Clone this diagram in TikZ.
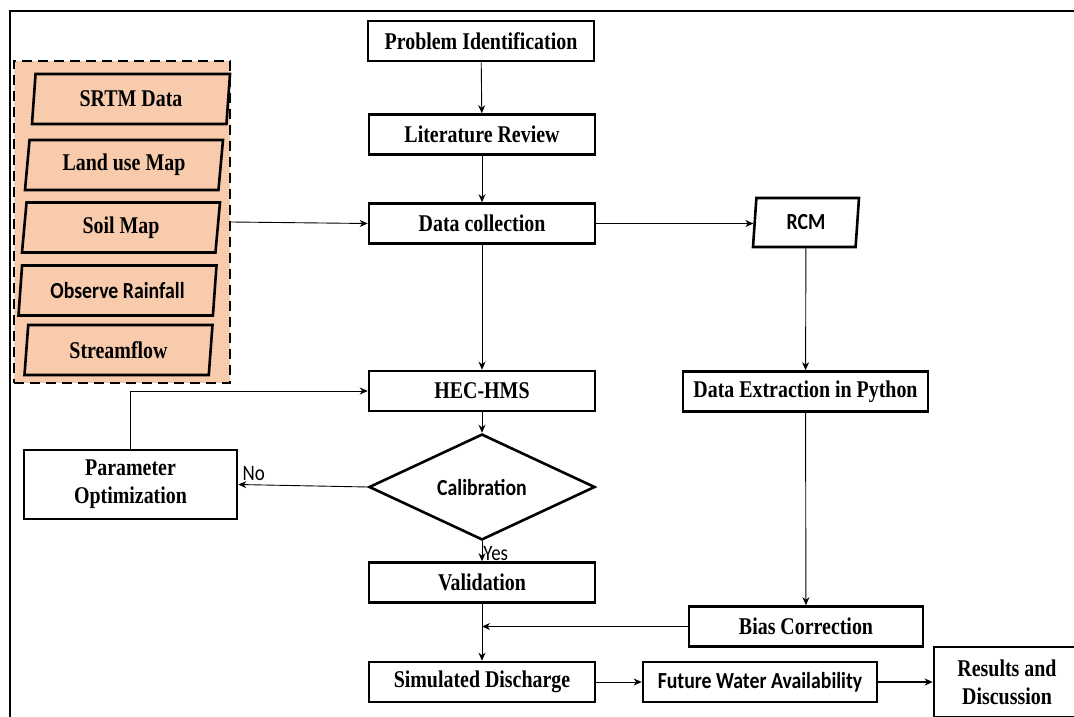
\documentclass[tikz,border=0pt]{standalone}
\usepackage{fontspec}
\setmainfont{Liberation Serif}[FakeStretch=0.83]
\newfontfamily\calfont{Carlito}[FakeStretch=0.86]
\usepackage{tikz}
\usetikzlibrary{shapes.geometric,arrows.meta,positioning,calc}
\definecolor{InputPeach}{HTML}{F8CBAD}
\definecolor{LineBlack}{HTML}{000000}
\tikzset{
    % Base node style
    basenode/.style={
        draw=LineBlack,
        fill=white,
        line width=2.6pt,
        align=center,
        inner sep=2pt,
        font=\fontsize{24}{28}\selectfont\bfseries
    },
    % Sans label font
    calnode/.style={
        font=\calfont\fontsize{23}{26}\selectfont\bfseries
    },
    % Process box
    procnode/.style={
        basenode,
        minimum width=226pt,
        minimum height=40pt
    },
    % Input data (parallelogram)
    datanode/.style={
        basenode,
        trapezium,
        trapezium left angle=80,
        trapezium right angle=100,
        trapezium stretches body,
        fill=InputPeach,
        minimum width=198pt,
        minimum height=50pt
    },
    % Decision
    decisionnode/.style={
        basenode,
        calnode,
        diamond,
        minimum width=226pt,
        minimum height=78pt,
        inner sep=0pt
    },
    % Dashed input group
    groupbox/.style={
        draw=LineBlack,
        fill=InputPeach,
        line width=2.4pt,
        dash pattern=on 10pt off 6pt
    },
    % Arrow styles (straight lines only)
    myarrow/.style={
        -{Stealth[length=8pt,width=7pt,inset=2.5pt]},
        line width=0.9pt,
        draw=LineBlack
    },
    % Thick arrow
    thickarrow/.style={
        myarrow,
        line width=2pt
    },
    % Yes/No labels
    choice/.style={
        font=\calfont\fontsize{22}{24}\selectfont
    }
}

\begin{document}
\begin{tikzpicture}[x=1pt, y=-1pt]
        \useasboundingbox (0,0) rectangle (1074,717);

        % Frame
        \draw[line width=1.6pt, LineBlack] (10,717) -- (10,11) -- (1074,11);

        % Input data group
        \node[groupbox, minimum width=216pt, minimum height=322pt] (inputs) at (122,222) {};
        \node[datanode] (srtm) at (131,99) {SRTM Data};
        \node[datanode] (landuse) at (124,165) {Land use Map};
        \node[datanode] (soil) at (121,227.5) {Soil Map};
        \node[datanode, calnode] (rain) at (117.5,290.5) {Observe Rainfall};
        \node[datanode, minimum width=188pt] (flow) at (118.5,350) {Streamflow};

        % Main column
        \node[procnode] (prob) at (481,41) {Problem Identification};
        \node[procnode] (lit) at (482,134.5) {Literature Review};
        \node[procnode] (data) at (482,223.5) {Data collection};
        \node[procnode] (hec) at (482,391) {HEC-HMS};
        \node[decisionnode] (calib) at (482,487) {Calibration};
        \node[procnode] (val) at (482,582.5) {Validation};
        \node[procnode] (sim) at (482,682) {Simulated Discharge};

        % Optimization loop
        \node[basenode, minimum width=213pt, minimum height=69pt] (param) at (130.5,484.5) {Parameter\\Optimization};

        % Climate branch
        \node[datanode, calnode, fill=white, minimum width=106pt, minimum height=49pt] (rcm) at (806,222.5) {RCM};
        \node[procnode, minimum width=245pt] (extr) at (805.5,391.5) {Data Extraction in Python};
        \node[procnode, minimum width=234pt] (bias) at (806,626.5) {Bias Correction};
        \node[procnode, calnode, minimum width=234pt] (fwa) at (760,682) {Future Water Availability};
        \node[basenode, minimum width=146pt, minimum height=70pt] (res) at (1007,682) {Results and\\Discussion};

        % Downward arrows
        \draw[myarrow] (prob) -- (lit);
        \draw[myarrow] (lit) -- (data);
        \draw[myarrow] (inputs.east) -- (data.west);
        \draw[myarrow] (data.east) -- (data.east -| rcm.west);
        \draw[myarrow] (data) -- (hec);
        \draw[myarrow] (hec) -- (calib);
        \draw[myarrow] (calib.west) -- node[choice, above, pos=0.88]{No} (param.east);
        \draw[myarrow] (param.north) |- (hec.west);
        \draw[myarrow] (calib) -- node[choice, right, pos=0.6, inner sep=1pt]{Yes} (val);
        \draw[myarrow] (val) -- (sim);

        % Climate arrows
        \draw[myarrow] (rcm) -- (extr);
        \draw[myarrow] (extr) -- (bias);
        \coordinate (merge) at (val.south |- bias.west);
        \draw[myarrow] (bias.west) -- (merge);
        \draw[myarrow] (sim) -- (fwa);
        \draw[thickarrow] (fwa) -- (res);
    \end{tikzpicture}
\end{document}
